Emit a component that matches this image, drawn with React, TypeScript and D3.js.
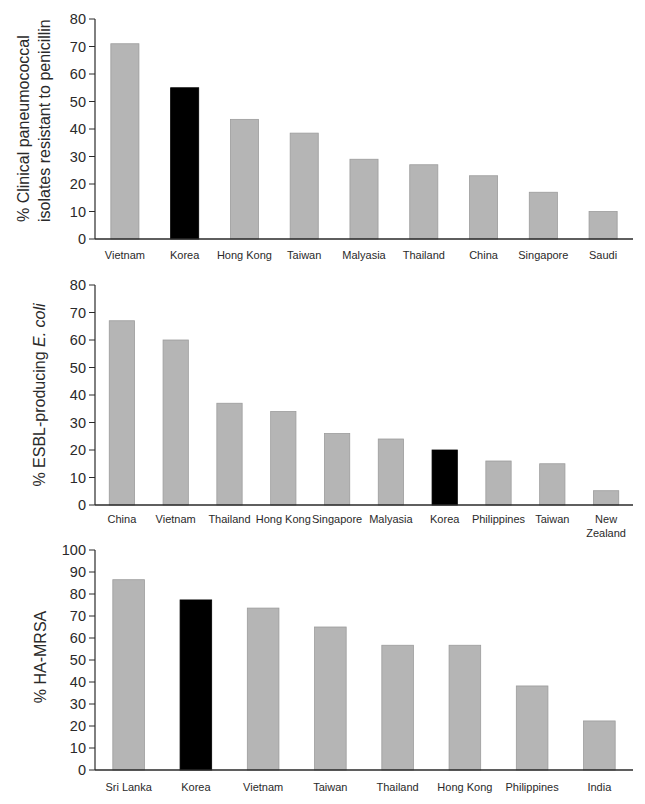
import React from "react";
import * as d3 from "d3";

const cats1 = ["Vietnam", "Korea", "Hong Kong", "Taiwan", "Malyasia", "Thailand", "China", "Singapore", "Saudi"];
const vals1 = [71, 55, 43.5, 38.5, 29, 27, 23, 17, 10];
const ticks1 = [0, 10, 20, 30, 40, 50, 60, 70, 80];

const cats2 = ["China", "Vietnam", "Thailand", "Hong Kong", "Singapore", "Malyasia", "Korea", "Philippines", "Taiwan", "New\nZealand"];
const vals2 = [67, 60, 37, 34, 26, 24, 20, 16, 15, 5.2];
const ticks2 = [0, 10, 20, 30, 40, 50, 60, 70, 80];

const cats3 = ["Sri Lanka", "Korea", "Vietnam", "Taiwan", "Thailand", "Hong Kong", "Philippines", "India"];
const vals3 = [86.5, 77.3, 73.6, 65, 56.7, 56.7, 38.2, 22.3];
const ticks3 = [0, 10, 20, 30, 40, 50, 60, 70, 80, 90, 100];

const highlight = "Korea";
const FONT = "'Liberation Sans', Arial, Helvetica, sans-serif";
const GRAY = "#b5b5b5";
const AXIS = "#2a2a2a";
const TEXT = "#2a2a2a";

type PanelProps = {
  cats: string[];
  vals: number[];
  ticks: number[];
  top: number;
  bottom: number;
  labelBaseline: number;
};

const X0 = 95;
const X1 = 633;

function Panel({ cats, vals, ticks, top, bottom, labelBaseline }: PanelProps) {
  const x = d3.scaleBand<string>().domain(cats).range([X0, X1]).paddingInner(0.53).paddingOuter(0.265);
  const y = d3.scaleLinear().domain([0, ticks[ticks.length - 1]]).range([bottom, top]);
  return (
    <g>
      {cats.map((c, i) => (
        <rect
          key={c}
          x={x(c)}
          y={y(vals[i])}
          width={x.bandwidth()}
          height={y(0) - y(vals[i])}
          fill={c === highlight ? "#000" : GRAY}
          stroke={c === highlight ? "#000" : "#9c9c9c"}
          strokeWidth={0.8}
        />
      ))}
      <line x1={X0} x2={X0} y1={y(ticks[ticks.length - 1])} y2={y(0)} stroke={AXIS} strokeWidth={1.2} />
      <line x1={X0} x2={X1} y1={y(0)} y2={y(0)} stroke={AXIS} strokeWidth={1.6} />
      {ticks.map((t) => (
        <g key={t}>
          <line x1={X0 - 6} x2={X0} y1={y(t)} y2={y(t)} stroke={AXIS} strokeWidth={1} />
          <text x={X0 - 9} y={y(t)} dy="0.36em" textAnchor="end" fontSize={14.5} fill={TEXT} fontFamily={FONT}>
            {t}
          </text>
        </g>
      ))}
      {cats.map((c) => (
        <text
          key={"l" + c}
          x={(x(c) as number) + x.bandwidth() / 2}
          y={labelBaseline}
          textAnchor="middle"
          fontSize={11}
          fill={TEXT}
          fontFamily={FONT}
        >
          {c.split("\n").map((s, k) => (
            <tspan key={k} x={(x(c) as number) + x.bandwidth() / 2} dy={k === 0 ? 0 : 14}>
              {s}
            </tspan>
          ))}
        </text>
      ))}
    </g>
  );
}

export default function App() {
  return (
    <svg
      width={645}
      height={804}
      viewBox="0 0 645 804"
      style={{ position: "absolute", left: 0, top: 0, background: "#fff" }}
    >
      <rect width={645} height={804} fill="#fff" />
      <Panel cats={cats1} vals={vals1} ticks={ticks1} top={19} bottom={239} labelBaseline={259} />
      <Panel cats={cats2} vals={vals2} ticks={ticks2} top={285} bottom={505} labelBaseline={523} />
      <Panel cats={cats3} vals={vals3} ticks={ticks3} top={550} bottom={770} labelBaseline={791} />

      <text transform="translate(29,222) rotate(-90)" textAnchor="start" fontSize={16} fill={TEXT} fontFamily={FONT}>
        % Clinical paneumococcal
      </text>
      <text transform="translate(50,222) rotate(-90)" textAnchor="start" fontSize={16} fill={TEXT} fontFamily={FONT}>
        isolates resistant to penicillin
      </text>
      <text transform="translate(45,395) rotate(-90)" textAnchor="middle" fontSize={16} fill={TEXT} fontFamily={FONT}>
        % ESBL-producing <tspan fontStyle="italic">E. coli</tspan>
      </text>
      <text transform="translate(46,657) rotate(-90)" textAnchor="middle" fontSize={16} fill={TEXT} fontFamily={FONT}>
        % HA-MRSA
      </text>
    </svg>
  );
}
